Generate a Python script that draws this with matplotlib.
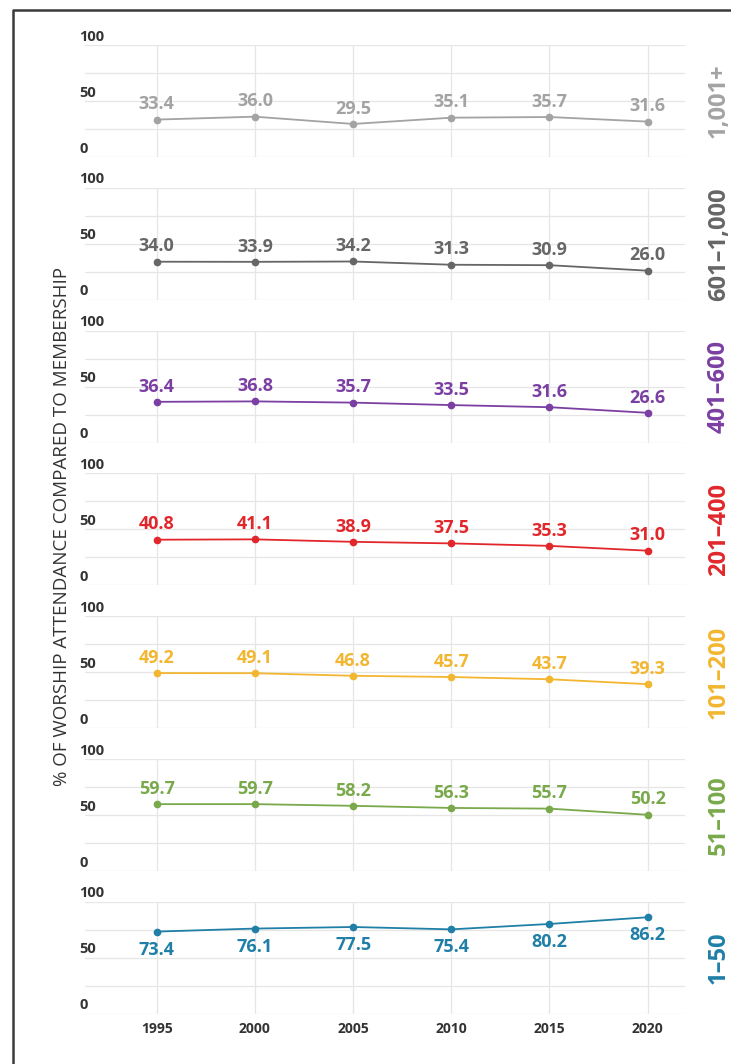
import numpy as np
import matplotlib
matplotlib.use("Agg")
import matplotlib.pyplot as plt
import matplotlib.transforms as mtransforms
from matplotlib.lines import Line2D

plt.rcParams['font.family'] = ['Open Sans', 'DejaVu Sans']

# data
years = [1995, 2000, 2005, 2010, 2015, 2020]
groups = ["1,001+", "601–1,000", "401–600", "201–400", "101–200", "51–100", "1–50"]
v_1001 = [33.4, 36.0, 29.5, 35.1, 35.7, 31.6]
v_601 = [34.0, 33.9, 34.2, 31.3, 30.9, 26.0]
v_401 = [36.4, 36.8, 35.7, 33.5, 31.6, 26.6]
v_201 = [40.8, 41.1, 38.9, 37.5, 35.3, 31.0]
v_101 = [49.2, 49.1, 46.8, 45.7, 43.7, 39.3]
v_51 = [59.7, 59.7, 58.2, 56.3, 55.7, 50.2]
v_1 = [73.4, 76.1, 77.5, 75.4, 80.2, 86.2]
series = [v_1001, v_601, v_401, v_201, v_101, v_51, v_1]
colors = ["#a3a3a3", "#666666", "#7b3fa3", "#e1272b", "#f2b630", "#79a94a", "#1f7fa6"]
ytick_vals = [0, 50, 100]

W, H = 731, 1064
fig = plt.figure(figsize=(W / 100, H / 100), dpi=100)

# outer frame (top and left edges visible in the crop)
fig.add_artist(Line2D([13 / W, 13 / W, 1.01], [-0.01, 1 - 10 / H, 1 - 10 / H],
                      transform=fig.transFigure, color="#3a3a3a", lw=1.8))

panel_h = 112
step = 142.8
for i, (vals, name, col) in enumerate(zip(series, groups, colors)):
    top = 45 + step * i
    ax = fig.add_axes([85 / W, 1 - (top + panel_h) / H, 600 / W, panel_h / H])
    ax.set_xlim(1991.35, 2021.9)
    ax.set_ylim(0, 100)
    ax.set_xticks(years)
    ax.set_yticks([0, 25, 50, 75, 100])
    ax.grid(color="#e6e6e6", lw=0.9)
    ax.set_axisbelow(True)
    for s in ax.spines.values():
        s.set_visible(False)
    ax.tick_params(length=0, labelleft=False, labelbottom=(i == len(series) - 1), pad=6)
    for lab in ax.get_xticklabels():
        lab.set_fontsize(10)
        lab.set_fontweight("bold")
        lab.set_color("#333333")

    trans = mtransforms.blended_transform_factory(ax.transAxes, ax.transData)
    for v in ytick_vals:
        ax.text(-0.01, v + 1.2, str(v), transform=trans, ha="left", va="bottom",
                fontsize=10.5, fontweight="bold", color="#333333")

    ax.plot(years, vals, color=col, lw=1.3, marker="o", markersize=4.5, clip_on=False)
    dy = -13 if i == len(series) - 1 else 11
    for x, v in zip(years, vals):
        ax.annotate(f"{v:.1f}", (x, v), xytext=(0, dy), textcoords="offset points",
                    ha="center", va="center", fontsize=13, fontweight="bold", color=col)

    fig.text(719 / W, 1 - (top + panel_h / 2) / H, name, rotation=90, ha="center", va="center",
             fontsize=17, fontweight="bold", color=col)

fig.text(62 / W, 1 - 527 / H, "% OF WORSHIP ATTENDANCE COMPARED TO MEMBERSHIP", rotation=90,
         ha="center", va="center", fontsize=13.5, color="#333333")

fig.savefig("out.png", dpi=100, facecolor="white")
